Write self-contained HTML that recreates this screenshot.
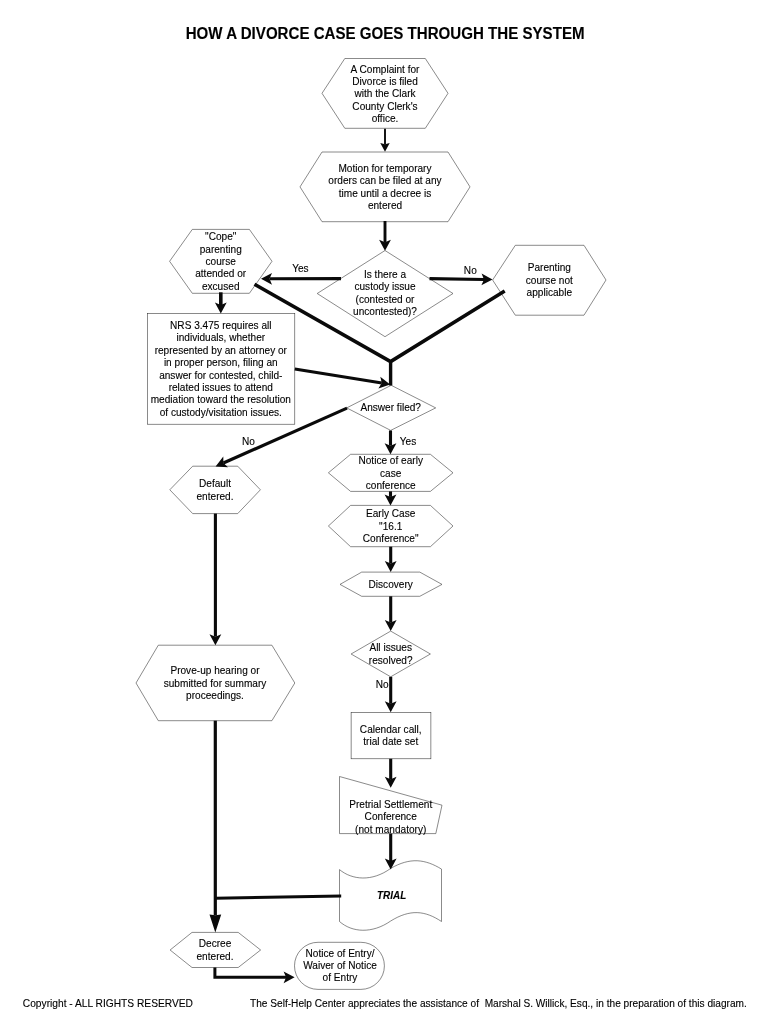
<!DOCTYPE html>
<html><head><meta charset="utf-8"><title>How a divorce case goes through the system</title>
<style>
html,body{margin:0;padding:0;background:#fff;}
svg{display:block;will-change:transform;}
.sh *{fill:#fff;stroke:#2a2a2a;stroke-width:0.55;}
.tx text{font-family:"Liberation Sans",sans-serif;font-size:11.0px;fill:#000;stroke:#000;stroke-width:0.12px;text-anchor:middle;}
</style></head><body>
<svg width="770" height="1024" viewBox="0 0 770 1024">
<rect width="770" height="1024" fill="#fff"/>
<g class="sh">
<polygon points="322.0,93.3 344.8,58.5 425.3,58.5 448.0,93.3 425.3,128.3 344.8,128.3"/>
<polygon points="300.0,186.9 322.0,152.0 448.0,152.0 470.0,186.9 448.0,221.7 322.0,221.7"/>
<polygon points="169.6,261.3 192.3,229.4 249.4,229.4 272.0,261.3 249.4,293.3 192.3,293.3"/>
<polygon points="385.0,250.5 453.0,293.5 385.0,336.7 317.2,293.5"/>
<polygon points="492.6,280.0 515.3,245.3 584.0,245.3 606.0,280.0 584.0,315.2 515.3,315.2"/>
<rect x="147.4" y="313.4" width="147.4" height="110.8" rx="0.0"/>
<polygon points="391.2,385.3 435.7,407.9 390.7,430.4 346.7,407.9"/>
<polygon points="169.8,489.8 192.7,466.2 237.7,466.2 260.4,489.8 237.7,513.6 192.7,513.6"/>
<polygon points="328.4,472.8 350.6,454.3 430.4,454.3 453.0,472.8 430.4,491.4 350.6,491.4"/>
<polygon points="328.4,526.0 350.6,505.4 430.4,505.4 453.0,526.0 430.4,546.7 350.6,546.7"/>
<polygon points="340.0,584.4 361.7,572.1 419.8,572.1 442.0,584.4 419.8,596.3 361.7,596.3"/>
<polygon points="390.7,631.1 430.4,654.0 390.7,676.8 351.1,654.0"/>
<rect x="351.1" y="712.3" width="79.8" height="46.5" rx="0.0"/>
<polygon points="339.5,776.5 442.0,805.2 435.8,833.6 339.5,833.6"/>
<polygon points="136.0,683.0 158.3,645.2 271.9,645.2 294.8,683.0 271.9,720.7 158.3,720.7"/>
<polygon points="170.1,950.0 192.0,932.4 238.2,932.4 260.6,950.0 238.2,967.5 192.0,967.5"/>
<rect x="294.5" y="942.3" width="89.9" height="47.1" rx="23.5"/>
<path d="M339.5,869.6 C352,880 372,882 390.7,868.4 C410,857.2 425,859 441.5,869.1 L441.5,921.5 C425,910.5 410,909 390.7,921 C372,934 352,932.5 339.5,921.5 Z"/>
</g>
<g class="ar">
<polygon points="385.0,151.8 380.3,143.0 385.0,144.2 389.7,143.0" fill="#0a0a0a"/>
<polyline points="385.0,128.8 385.0,144.2" fill="none" stroke="#0a0a0a" stroke-width="1.9" stroke-linecap="butt" stroke-linejoin="miter"/>
<polygon points="385.0,250.8 379.1,239.8 385.0,242.3 390.9,239.8" fill="#0a0a0a"/>
<polyline points="385.0,221.0 385.0,242.3" fill="none" stroke="#0a0a0a" stroke-width="2.9" stroke-linecap="butt" stroke-linejoin="miter"/>
<polygon points="261.0,278.8 272.0,272.9 269.5,278.8 272.0,284.7" fill="#0a0a0a"/>
<polyline points="341.0,278.6 269.5,278.8" fill="none" stroke="#0a0a0a" stroke-width="3.1" stroke-linecap="butt" stroke-linejoin="miter"/>
<polygon points="492.5,279.6 481.4,285.3 484.0,279.5 481.6,273.5" fill="#0a0a0a"/>
<polyline points="429.5,278.6 484.0,279.5" fill="none" stroke="#0a0a0a" stroke-width="3.1" stroke-linecap="butt" stroke-linejoin="miter"/>
<polyline points="254.5,284.2 390.6,361.6 504.7,291.0" fill="none" stroke="#0a0a0a" stroke-width="3.6" stroke-linecap="butt" stroke-linejoin="miter"/>
<polyline points="390.6,361.0 390.6,385.5" fill="none" stroke="#0a0a0a" stroke-width="3.4" stroke-linecap="butt" stroke-linejoin="miter"/>
<polygon points="220.8,313.6 214.9,302.6 220.8,305.1 226.7,302.6" fill="#0a0a0a"/>
<polyline points="220.8,292.3 220.8,305.1" fill="none" stroke="#0a0a0a" stroke-width="3.6" stroke-linecap="butt" stroke-linejoin="miter"/>
<polygon points="390.2,384.4 378.4,388.5 381.8,383.0 380.3,376.8" fill="#0a0a0a"/>
<polyline points="294.8,369.0 381.8,383.0" fill="none" stroke="#0a0a0a" stroke-width="3.1" stroke-linecap="butt" stroke-linejoin="miter"/>
<polygon points="215.6,466.4 223.3,456.6 223.4,463.0 228.0,467.3" fill="#0a0a0a"/>
<polyline points="347.0,408.2 223.4,463.0" fill="none" stroke="#0a0a0a" stroke-width="3.1" stroke-linecap="butt" stroke-linejoin="miter"/>
<polygon points="390.5,454.2 384.6,443.2 390.5,445.7 396.4,443.2" fill="#0a0a0a"/>
<polyline points="390.5,430.5 390.5,445.7" fill="none" stroke="#0a0a0a" stroke-width="3.1" stroke-linecap="butt" stroke-linejoin="miter"/>
<polygon points="390.5,505.4 384.6,494.4 390.5,496.9 396.4,494.4" fill="#0a0a0a"/>
<polyline points="390.5,491.4 390.5,496.9" fill="none" stroke="#0a0a0a" stroke-width="3.1" stroke-linecap="butt" stroke-linejoin="miter"/>
<polygon points="390.7,572.0 384.8,561.0 390.7,563.5 396.6,561.0" fill="#0a0a0a"/>
<polyline points="390.7,546.7 390.7,563.5" fill="none" stroke="#0a0a0a" stroke-width="3.1" stroke-linecap="butt" stroke-linejoin="miter"/>
<polygon points="390.7,631.1 384.8,620.1 390.7,622.6 396.6,620.1" fill="#0a0a0a"/>
<polyline points="390.7,596.3 390.7,622.6" fill="none" stroke="#0a0a0a" stroke-width="3.1" stroke-linecap="butt" stroke-linejoin="miter"/>
<polygon points="390.7,712.3 384.8,701.3 390.7,703.8 396.6,701.3" fill="#0a0a0a"/>
<polyline points="390.7,676.8 390.7,703.8" fill="none" stroke="#0a0a0a" stroke-width="3.1" stroke-linecap="butt" stroke-linejoin="miter"/>
<polygon points="390.7,787.7 384.8,776.7 390.7,779.2 396.6,776.7" fill="#0a0a0a"/>
<polyline points="390.7,758.8 390.7,779.2" fill="none" stroke="#0a0a0a" stroke-width="3.1" stroke-linecap="butt" stroke-linejoin="miter"/>
<polygon points="390.7,869.5 384.8,858.5 390.7,861.0 396.6,858.5" fill="#0a0a0a"/>
<polyline points="390.7,833.6 390.7,861.0" fill="none" stroke="#0a0a0a" stroke-width="3.1" stroke-linecap="butt" stroke-linejoin="miter"/>
<polygon points="215.4,645.2 209.5,634.2 215.4,636.7 221.3,634.2" fill="#0a0a0a"/>
<polyline points="215.4,513.6 215.4,636.7" fill="none" stroke="#0a0a0a" stroke-width="3.1" stroke-linecap="butt" stroke-linejoin="miter"/>
<polygon points="215.3,932.4 209.5,914.6 215.3,915.2 221.2,914.6" fill="#0a0a0a"/>
<polyline points="215.3,720.7 215.3,915.2" fill="none" stroke="#0a0a0a" stroke-width="3.2" stroke-linecap="butt" stroke-linejoin="miter"/>
<polyline points="341.2,895.9 215.3,898.2" fill="none" stroke="#0a0a0a" stroke-width="3.0" stroke-linecap="butt" stroke-linejoin="miter"/>
<polygon points="294.6,977.3 283.6,983.2 286.1,977.3 283.6,971.4" fill="#0a0a0a"/>
<polyline points="214.9,967.4 214.9,977.3 286.1,977.3" fill="none" stroke="#0a0a0a" stroke-width="3.0" stroke-linecap="butt" stroke-linejoin="miter"/>
</g>
<g class="tx">
<text transform="translate(385.0,72.5) scale(0.918,1)">A Complaint for</text>
<text transform="translate(385.0,84.9) scale(0.918,1)">Divorce is filed</text>
<text transform="translate(385.0,97.3) scale(0.918,1)">with the Clark</text>
<text transform="translate(385.0,109.7) scale(0.918,1)">County Clerk's</text>
<text transform="translate(385.0,122.1) scale(0.918,1)">office.</text>
<text transform="translate(385.0,171.8) scale(0.918,1)">Motion for temporary</text>
<text transform="translate(385.0,184.2) scale(0.918,1)">orders can be filed at any</text>
<text transform="translate(385.0,196.6) scale(0.918,1)">time until a decree is</text>
<text transform="translate(385.0,209.0) scale(0.918,1)">entered</text>
<text transform="translate(220.7,240.1) scale(0.918,1)">"Cope"</text>
<text transform="translate(220.7,252.5) scale(0.918,1)">parenting</text>
<text transform="translate(220.7,264.9) scale(0.918,1)">course</text>
<text transform="translate(220.7,277.3) scale(0.918,1)">attended or</text>
<text transform="translate(220.7,289.7) scale(0.918,1)">excused</text>
<text transform="translate(385.0,278.0) scale(0.918,1)">Is there a</text>
<text transform="translate(385.0,290.4) scale(0.918,1)">custody issue</text>
<text transform="translate(385.0,302.8) scale(0.918,1)">(contested or</text>
<text transform="translate(385.0,315.2) scale(0.918,1)">uncontested)?</text>
<text transform="translate(549.3,271.1) scale(0.918,1)">Parenting</text>
<text transform="translate(549.3,283.5) scale(0.918,1)">course not</text>
<text transform="translate(549.3,295.9) scale(0.918,1)">applicable</text>
<text transform="translate(220.8,328.8) scale(0.918,1)">NRS 3.475 requires all</text>
<text transform="translate(220.8,341.2) scale(0.918,1)">individuals, whether</text>
<text transform="translate(220.8,353.7) scale(0.918,1)">represented by an attorney or</text>
<text transform="translate(220.8,366.1) scale(0.918,1)">in proper person, filing an</text>
<text transform="translate(220.8,378.6) scale(0.918,1)">answer for contested, child-</text>
<text transform="translate(220.8,391.0) scale(0.918,1)">related issues to attend</text>
<text transform="translate(220.8,403.4) scale(0.918,1)">mediation toward the resolution</text>
<text transform="translate(220.8,415.9) scale(0.918,1)">of custody/visitation issues.</text>
<text transform="translate(390.7,411.4) scale(0.918,1)">Answer filed?</text>
<text transform="translate(215.0,487.1) scale(0.918,1)">Default</text>
<text transform="translate(215.0,499.5) scale(0.918,1)">entered.</text>
<text transform="translate(390.7,464.1) scale(0.918,1)">Notice of early</text>
<text transform="translate(390.7,476.5) scale(0.918,1)">case</text>
<text transform="translate(390.7,488.9) scale(0.918,1)">conference</text>
<text transform="translate(390.7,517.2) scale(0.918,1)">Early Case</text>
<text transform="translate(390.7,529.6) scale(0.918,1)">"16.1</text>
<text transform="translate(390.7,542.0) scale(0.918,1)">Conference"</text>
<text transform="translate(390.7,588.0) scale(0.918,1)">Discovery</text>
<text transform="translate(390.7,651.3) scale(0.918,1)">All issues</text>
<text transform="translate(390.7,663.7) scale(0.918,1)">resolved?</text>
<text transform="translate(390.7,732.7) scale(0.918,1)">Calendar call,</text>
<text transform="translate(390.7,745.1) scale(0.918,1)">trial date set</text>
<text transform="translate(390.7,808.0) scale(0.918,1)">Pretrial Settlement</text>
<text transform="translate(390.7,820.4) scale(0.918,1)">Conference</text>
<text transform="translate(390.7,832.8) scale(0.918,1)">(not mandatory)</text>
<text transform="translate(391.6,898.9) scale(0.918,1)" style="font-weight:bold;font-style:italic;font-size:10.8px">TRIAL</text>
<text transform="translate(215.0,674.2) scale(0.918,1)">Prove-up hearing or</text>
<text transform="translate(215.0,686.6) scale(0.918,1)">submitted for summary</text>
<text transform="translate(215.0,699.0) scale(0.918,1)">proceedings.</text>
<text transform="translate(215.0,947.2) scale(0.918,1)">Decree</text>
<text transform="translate(215.0,959.6) scale(0.918,1)">entered.</text>
<text transform="translate(340.0,956.6) scale(0.918,1)">Notice of Entry/</text>
<text transform="translate(340.0,968.8) scale(0.918,1)">Waiver of Notice</text>
<text transform="translate(340.0,981.0) scale(0.918,1)">of Entry</text>
<text transform="translate(300.4,271.6) scale(0.918,1)">Yes</text>
<text transform="translate(470.3,274.3) scale(0.918,1)">No</text>
<text transform="translate(248.5,444.8) scale(0.918,1)">No</text>
<text transform="translate(408.0,444.6) scale(0.918,1)">Yes</text>
<text transform="translate(382.2,687.8) scale(0.918,1)">No</text>
<text transform="translate(385.1,38.7) scale(0.968,1)" style="font-weight:bold;font-size:15.6px">HOW A DIVORCE CASE GOES THROUGH THE SYSTEM</text>
<text transform="translate(22.8,1006.7) scale(0.928,1)" style="text-anchor:start">Copyright - ALL RIGHTS RESERVED</text>
<text transform="translate(250,1006.7) scale(0.9215,1)" style="text-anchor:start;white-space:pre">The Self-Help Center appreciates the assistance of  Marshal S. Willick, Esq., in the preparation of this diagram.</text>
</g>
</svg>
</body></html>
